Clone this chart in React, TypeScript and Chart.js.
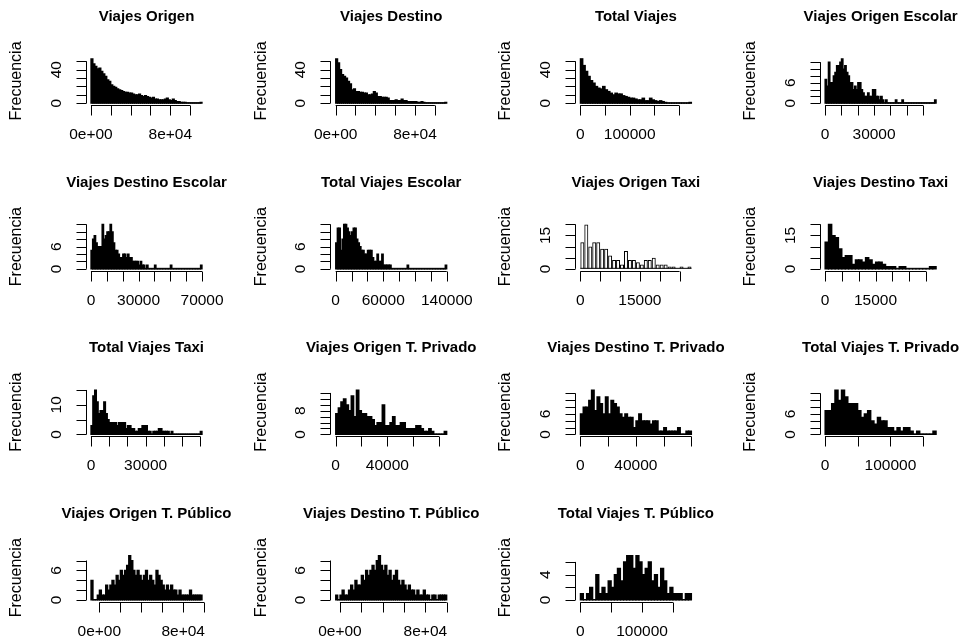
import React, { useEffect, useRef } from "react";
import { Chart, registerables } from "chart.js";
Chart.register(...registerables);

// ---------- titles ----------
const titles = [
  "Viajes Origen", "Viajes Destino", "Total Viajes", "Viajes Origen Escolar",
  "Viajes Destino Escolar", "Total Viajes Escolar", "Viajes Origen Taxi", "Viajes Destino Taxi",
  "Total Viajes Taxi", "Viajes Origen T. Privado", "Viajes Destino T. Privado", "Total Viajes T. Privado",
  "Viajes Origen T. Público", "Viajes Destino T. Público", "Total Viajes T. Público",
];
const yAxisTitle = "Frecuencia";

// ---------- histogram breaks ----------
const binStart = [0, 0, 0, 0, 0, 0, 0, 0, 0, 0, 0, 0, -8000, -4000, 0];
const binWidth = [2000, 2000, 5000, 1000, 1000, 2000, 1000, 1000, 1000, 2000, 2000, 5000, 2000, 2000, 5000];

// ---------- counts ----------
const cViajesOrigen = [53,47,44,41,42,38,35,32,28,26,22,20,19,17,16,15,14,13,13,12,12,11,10,10,11,9,8,9,8,7,6,7,5,5,4,4,4,5,6,4,3,5,3,2,2,1,1,1,0,0,0,0,0,0,0,1];
const cViajesDestino = [53,48,40,34,32,30,26,23,16,17,14,14,13,13,12,12,10,10,11,14,12,8,8,7,7,7,6,3,3,3,4,3,3,5,3,3,2,2,2,2,2,1,1,2,1,0,0,0,0,0,0,0,0,0,0,1];
const cTotalViajes = [53,45,38,32,27,24,20,18,17,20,16,14,12,10,12,11,11,9,8,7,6,6,5,4,4,6,3,3,6,4,3,2,3,2,1,0,0,0,0,0,0,0,0,0,1];
const cOrigenEscolar = [7,5,12,6,6,8,9,11,11,12,13,10,11,9,8,6,6,4,5,4,6,6,4,3,2,2,3,2,2,4,4,2,2,1,2,1,0,1,0,0,0,0,0,1,0,0,0,1,0,0,0,0,0,0,0,0,0,0,0,0,0,0,0,0,0,0,0,1];
const cDestinoEscolar = [5,8,9,7,6,6,6,12,8,9,10,10,12,10,7,5,5,4,3,3,4,4,3,4,3,3,2,2,2,2,1,2,1,1,0,1,0,0,0,0,1,0,0,0,0,0,0,0,0,0,1,0,0,0,0,0,0,0,0,0,0,0,0,0,0,0,0,0,0,1];
const cTotalEscolar = [7,11,11,5,8,12,12,11,10,9,10,11,11,8,7,6,5,5,4,4,5,5,5,3,2,2,4,2,2,4,1,1,1,1,1,0,0,0,0,0,0,0,0,0,0,1,0,0,0,0,0,0,0,0,0,0,0,0,0,0,0,0,0,0,0,0,0,0,0,1];
const cOrigenTaxi = [12,20,10,12,12,9,9,6,4,4,2,8,4,4,3,2,4,4,5,2,2,2,1,1,0,1,0,1];
const cDestinoTaxi = [12,20,15,14,9,5,6,6,2,4,4,3,5,4,2,3,3,2,1,1,1,0,1,1,0,0,0,0,0,0,0,1,1];
const cTotalTaxi = [3,13,15,11,7,8,8,11,7,5,4,4,4,4,3,4,4,4,4,2,3,3,2,2,1,1,2,2,3,3,3,1,1,0,1,1,1,2,2,1,1,1,1,0,1,0,0,0,0,0,0,0,0,0,0,0,0,0,0,0,1];
const cOrigenPrivado = [7,9,11,12,10,8,13,6,15,8,7,7,6,6,5,3,4,4,10,3,3,4,6,3,3,4,4,2,2,2,2,3,3,2,1,1,2,1,0,0,0,0,1];
const cDestinoPrivado = [6,8,8,10,13,7,11,9,6,11,6,10,9,8,6,5,6,5,5,2,4,6,4,4,4,3,4,4,1,1,2,1,1,1,1,2,0,0,1,1];
const cTotalPrivado = [7,7,9,13,10,13,11,9,9,9,7,5,6,7,4,3,5,4,4,2,2,1,2,1,2,2,1,0,1,0,0,0,0,1];
const cOrigenPublico = [4,0,0,1,2,1,1,3,2,3,4,3,5,4,6,5,6,7,9,8,6,5,6,5,4,5,6,4,5,4,3,6,5,4,3,2,3,2,3,2,2,1,2,1,1,1,1,2,1,1,1,1,1];
const cDestinoPublico = [1,0,1,2,1,1,2,3,2,4,3,3,5,4,6,5,6,7,6,8,9,7,6,7,5,6,4,5,6,4,3,4,3,2,3,2,2,1,2,1,1,2,1,1,0,1,1,0,1,1,1,1];
const cTotalPublico = [1,0,1,2,0,4,1,2,1,3,2,4,5,3,6,7,7,5,7,6,4,5,6,3,4,2,5,3,1,2,1,1,1,0,1,1];

const allCounts = [
  cViajesOrigen, cViajesDestino, cTotalViajes, cOrigenEscolar,
  cDestinoEscolar, cTotalEscolar, cOrigenTaxi, cDestinoTaxi,
  cTotalTaxi, cOrigenPrivado, cDestinoPrivado, cTotalPrivado,
  cOrigenPublico, cDestinoPublico, cTotalPublico,
];

// ---------- axis ticks ----------
const xTickMax = [100000, 100000, 200000, 60000, 70000, 140000, 25000, 30000, 60000, 80000, 80000, 150000, 100000, 100000, 150000];
const xTickStep = [20000, 20000, 50000, 10000, 10000, 20000, 5000, 5000, 10000, 20000, 20000, 50000, 20000, 20000, 50000];
const xLabelValues = [
  [0, 80000], [0, 80000], [0, 100000], [0, 30000],
  [0, 30000, 70000], [0, 60000, 140000], [0, 15000], [0, 15000],
  [0, 30000], [0, 40000], [0, 40000], [0, 100000],
  [0, 80000], [0, 80000], [0, 100000],
];
const xLabelTexts = [
  ["0e+00", "8e+04"], ["0e+00", "8e+04"], ["0", "100000"], ["0", "30000"],
  ["0", "30000", "70000"], ["0", "60000", "140000"], ["0", "15000"], ["0", "15000"],
  ["0", "30000"], ["0", "40000"], ["0", "40000"], ["0", "100000"],
  ["0e+00", "8e+04"], ["0e+00", "8e+04"], ["0", "100000"],
];
const yTickMax = [50, 50, 50, 12, 12, 12, 20, 20, 15, 14, 12, 12, 8, 8, 6];
const yTickStep = [10, 10, 10, 2, 2, 2, 5, 5, 5, 2, 2, 2, 2, 2, 2];
const yLabelValues = [
  [0, 40], [0, 40], [0, 40], [0, 6],
  [0, 6], [0, 6], [0, 15], [0, 15],
  [0, 10], [0, 8], [0, 6], [0, 6],
  [0, 6], [0, 6], [0, 4],
];

// ---------- layout (R par(mfrow=c(4,4)) look) ----------
const PLOT_W = 120;
const PLOT_H = 48;
const COL_LEFT0 = 86.5;
const COL_STEP = 244.7;
const ROW_BOTTOM0 = 105;
const ROW_STEP = 165.6;
const PAD_L = 88;
const PAD_T = 58;
const CANVAS_W = 245;
const CANVAS_H = 165;
const FONT = "'Liberation Sans', Arial, sans-serif";

function range(a: number, b: number, s: number) {
  const out: number[] = [];
  for (let v = a; v <= b + 1e-9; v += s) out.push(v);
  return out;
}

function makeAxesPlugin(idx: number) {
  return {
    id: "rAxes" + idx,
    afterDraw(chart: any) {
      const { ctx, chartArea: a, scales } = chart;
      const xs = scales.x;
      const ys = scales.y;
      const counts = allCounts[idx];
      const lo = binStart[idx];
      const hi = lo + counts.length * binWidth[idx];
      ctx.save();
      ctx.strokeStyle = "#000";
      ctx.fillStyle = "#000";
      ctx.lineWidth = 1;
      // histogram baseline (bottom edges of the bars)
      const yb = ys.getPixelForValue(0);
      ctx.beginPath();
      ctx.moveTo(xs.getPixelForValue(lo), yb - 0.5);
      ctx.lineTo(xs.getPixelForValue(hi), yb - 0.5);
      ctx.stroke();

      // x axis
      const xt = range(0, xTickMax[idx], xTickStep[idx]);
      const axY = Math.round(a.bottom) + 0.5;
      ctx.beginPath();
      ctx.moveTo(xs.getPixelForValue(xt[0]), axY);
      ctx.lineTo(xs.getPixelForValue(xt[xt.length - 1]), axY);
      for (const t of xt) {
        const px = Math.round(xs.getPixelForValue(t)) + 0.5;
        ctx.moveTo(px, axY);
        ctx.lineTo(px, axY + 10);
      }
      ctx.stroke();
      ctx.font = "15.5px " + FONT;
      ctx.textAlign = "center";
      ctx.textBaseline = "middle";
      xLabelValues[idx].forEach((v, i) => {
        ctx.fillText(xLabelTexts[idx][i], xs.getPixelForValue(v), a.bottom + 30);
      });

      // y axis
      const yt = range(0, yTickMax[idx], yTickStep[idx]);
      const axX = Math.round(a.left) - 0.5;
      ctx.beginPath();
      ctx.moveTo(axX, ys.getPixelForValue(yt[0]));
      ctx.lineTo(axX, ys.getPixelForValue(yt[yt.length - 1]));
      for (const t of yt) {
        const py = Math.round(ys.getPixelForValue(t)) + 0.5;
        ctx.moveTo(axX, py);
        ctx.lineTo(axX - 10, py);
      }
      ctx.stroke();
      yLabelValues[idx].forEach((v) => {
        ctx.save();
        ctx.translate(a.left - 30, ys.getPixelForValue(v));
        ctx.rotate(-Math.PI / 2);
        ctx.fillText(String(v), 0, 0);
        ctx.restore();
      });

      // axis title
      ctx.save();
      ctx.font = "16px " + FONT;
      ctx.translate(a.left - 70, (a.top + a.bottom) / 2);
      ctx.rotate(-Math.PI / 2);
      ctx.fillText(yAxisTitle, 0, 0);
      ctx.restore();

      // main title
      ctx.font = "bold 15px " + FONT;
      ctx.fillText(titles[idx], (a.left + a.right) / 2, a.top - 40);
      ctx.restore();
    },
  };
}

function Panel({ idx }: { idx: number }) {
  const ref = useRef<HTMLCanvasElement | null>(null);
  const col = idx % 4;
  const row = Math.floor(idx / 4);
  const plotLeft = COL_LEFT0 + COL_STEP * col;
  const plotTop = ROW_BOTTOM0 + ROW_STEP * row - PLOT_H;
  const left = Math.round(plotLeft - PAD_L);
  const top = Math.round(plotTop - PAD_T);
  const padL = plotLeft - left;
  const padT = plotTop - top;

  useEffect(() => {
    const counts = allCounts[idx];
    const w = binWidth[idx];
    const lo = binStart[idx];
    const hi = lo + counts.length * w;
    const span = hi - lo;
    const maxC = Math.max(...counts);
    const binPx = (w / (span * 1.08)) * PLOT_W;
    const dense = binPx < 3.6;
    const data = counts.map((c, i) => ({ x: lo + (i + 0.5) * w, y: c }));
    const chart = new Chart(ref.current as HTMLCanvasElement, {
      type: "bar",
      data: {
        datasets: [
          {
            data: data as any,
            backgroundColor: dense ? "#000" : "rgba(255,255,255,0)",
            borderColor: "#000",
            borderWidth: dense ? 0 : ({ top: 1, left: 1, right: 1, bottom: 0 } as any),
            borderSkipped: false,
            inflateAmount: dense ? 0.6 : 0,
            barPercentage: 1,
            categoryPercentage: 1,
          } as any,
        ],
      },
      options: {
        responsive: false,
        animation: false,
        devicePixelRatio: 1,
        events: [],
        layout: {
          padding: {
            left: padL,
            top: padT,
            right: CANVAS_W - padL - PLOT_W,
            bottom: CANVAS_H - padT - PLOT_H,
          },
        },
        plugins: {
          legend: { display: false },
          tooltip: { enabled: false },
          title: { display: false },
        },
        scales: {
          x: { type: "linear", display: false, offset: false, grace: 0, min: lo - 0.04 * span, max: hi + 0.04 * span },
          y: { type: "linear", display: false, offset: false, grace: 0, min: -0.04 * maxC, max: 1.04 * maxC },
        },
      },
      plugins: [makeAxesPlugin(idx)],
    });
    return () => chart.destroy();
  }, [idx]);

  return (
    <canvas
      ref={ref}
      width={CANVAS_W}
      height={CANVAS_H}
      style={{ position: "absolute", left, top, width: CANVAS_W, height: CANVAS_H }}
    />
  );
}

export default function App() {
  return (
    <div style={{ position: "absolute", left: 0, top: 0, width: 966, height: 644, background: "#fff", overflow: "hidden" }}>
      {titles.map((_, i) => (
        <Panel key={i} idx={i} />
      ))}
    </div>
  );
}
